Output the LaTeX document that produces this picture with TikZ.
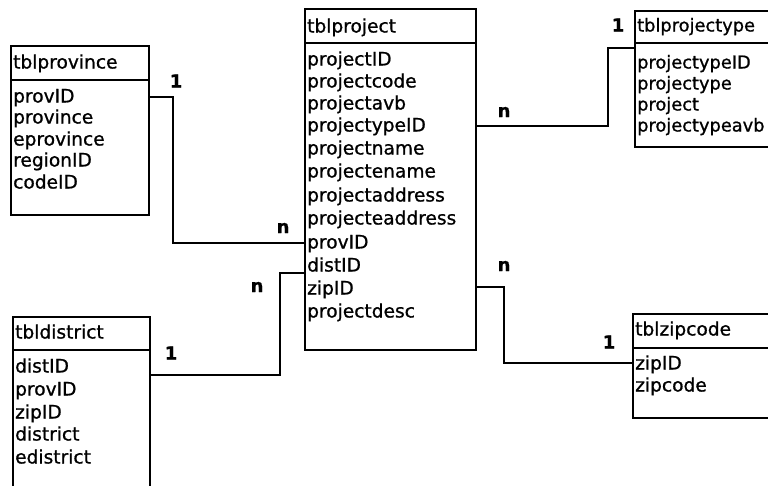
\documentclass[tikz,border=0pt]{standalone}
\usepackage{fontspec}
\setmainfont{DejaVu Sans}[FakeBold=0.9]
\begin{document}
\begin{tikzpicture}[x=1pt,y=-1pt,
  tbl/.style={draw=black,line width=1.9pt,anchor=north west,inner sep=0pt},
  sep/.style={line width=1.6pt},
  row/.style={anchor=west,inner sep=0pt,text height=14pt,text depth=3pt,font=\fontsize{18.6}{22}\selectfont},
  rowsm/.style={row,font=\fontsize{17.8}{22}\selectfont},
  conn/.style={line width=1.4pt},
  card/.style={inner sep=0pt,font=\fontsize{18}{20}\selectfont\bfseries}]
\useasboundingbox (0,0) rectangle (768,485);
\clip (0,0) rectangle (768,485);
\fill[white] (0,0) rectangle (768,485);

% tblprovince
\node[tbl,minimum width=138pt,minimum height=169pt] (prov) at (10,45) {};
\draw[sep] (prov.west |- 0,80) -- (prov.east |- 0,80);
\node[row] (pv0) at (13,63) {tblprovince};
\node[row] (pv1) at (13,97) {provID};
\node[row] (pv2) at (13,118) {province};
\node[row] (pv3) at (13,140) {eprovince};
\node[row] (pv4) at (13,161) {regionID};
\node[row] (pv5) at (13,183) {codeID};

% tblproject
\node[tbl,minimum width=171pt,minimum height=341pt] (proj) at (304,8) {};
\draw[sep] (proj.west |- 0,43) -- (proj.east |- 0,43);
\node[row] (pj0) at (307,27) {tblproject};
\node[row] (pj1) at (307,60) {projectID};
\node[row] (pj2) at (307,82) {projectcode};
\node[row] (pj3) at (307,104) {projectavb};
\node[row] (pj4) at (307,126) {projectypeID};
\node[row] (pj5) at (307,149) {projectname};
\node[row] (pj6) at (307,172) {projectename};
\node[row] (pj7) at (307,196) {projectaddress};
\node[row] (pj8) at (307,219) {projecteaddress};
\node[row] (pj9) at (307,243) {provID};
\node[row] (pj10) at (307,266) {distID};
\node[row] (pj11) at (307,289) {zipID};
\node[row] (pj12) at (307,312) {projectdesc};

% tbldistrict
\node[tbl,minimum width=137pt,minimum height=190pt] (dist) at (12,316) {};
\draw[sep] (dist.west |- 0,350) -- (dist.east |- 0,350);
\node[row] (ds0) at (15,333) {tbldistrict};
\node[row] (ds1) at (15,367) {distID};
\node[row] (ds2) at (15,390) {provID};
\node[row] (ds3) at (15,413) {zipID};
\node[row] (ds4) at (15,435) {district};
\node[row] (ds5) at (15,458) {edistrict};

% tblprojecttype
\node[tbl,minimum width=150pt,minimum height=136pt] (ptype) at (634,10) {};
\draw[sep] (ptype.west |- 0,43) -- (ptype.east |- 0,43);
\node[rowsm] (pt0) at (637,26) {tblprojectype};
\node[rowsm] (pt1) at (637,63) {projectypeID};
\node[rowsm] (pt2) at (637,84) {projectype};
\node[rowsm] (pt3) at (637,105) {project};
\node[rowsm] (pt4) at (637,126) {projectypeavb};

% tblzipcode
\node[tbl,minimum width=152pt,minimum height=104pt] (zip) at (632,313) {};
\draw[sep] (zip.west |- 0,348) -- (zip.east |- 0,348);
\node[row] (zp0) at (635,330) {tblzipcode};
\node[row] (zp1) at (635,364) {zipID};
\node[row] (zp2) at (635,386) {zipcode};

% connectors
\draw[conn] (prov.east |- 0,97) -- (173,97) |- (proj.west |- 0,243);
\draw[conn] (proj.west |- 0,273) -- (280,273) |- (dist.east |- 0,375);
\draw[conn] (proj.east |- 0,126) -- (608,126) |- (ptype.west |- 0,48);
\draw[conn] (proj.east |- 0,287) -- (504,287) |- (zip.west |- 0,363);

% cardinalities
\node[card] (c1) at (176,81) {1};
\node[card] (c2) at (283,228) {n};
\node[card] (c3) at (257,287) {n};
\node[card] (c4) at (171,353) {1};
\node[card] (c5) at (504,112) {n};
\node[card] (c6) at (618,25) {1};
\node[card] (c7) at (504,266) {n};
\node[card] (c8) at (609,342) {1};
\end{tikzpicture}
\end{document}
